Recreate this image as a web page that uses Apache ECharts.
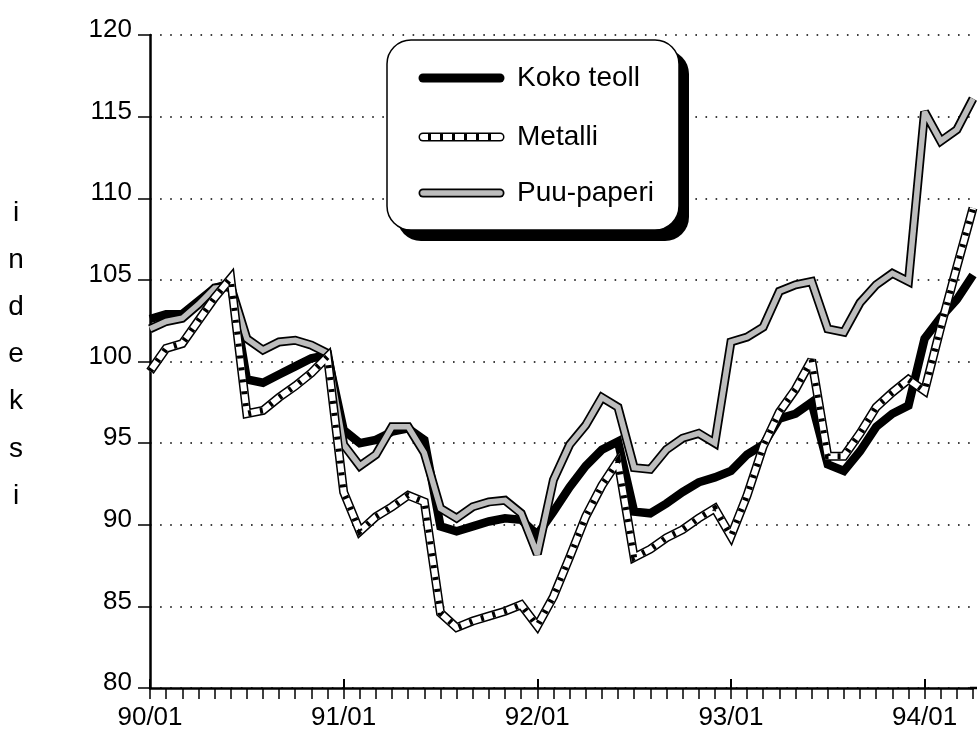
<!DOCTYPE html>
<html>
<head>
<meta charset="utf-8">
<script src="https://cdn.jsdelivr.net/npm/echarts@6/dist/echarts.min.js"></script>
<style>
  html, body { margin: 0; padding: 0; background: #fff; }
  #chart { width: 979px; height: 732px; }
</style>
</head>
<body>
<div id="chart"></div>
<script>
// ---- data (monthly, 90/01 .. 94/04) ----
const months = [
  '90/01','90/02','90/03','90/04','90/05','90/06','90/07','90/08','90/09','90/10','90/11','90/12',
  '91/01','91/02','91/03','91/04','91/05','91/06','91/07','91/08','91/09','91/10','91/11','91/12',
  '92/01','92/02','92/03','92/04','92/05','92/06','92/07','92/08','92/09','92/10','92/11','92/12',
  '93/01','93/02','93/03','93/04','93/05','93/06','93/07','93/08','93/09','93/10','93/11','93/12',
  '94/01','94/02','94/03','94/04'
];
const kokoTeoll = [
  102.6,102.9,102.9,103.7,104.5,104.8,98.9,98.7,99.2,99.7,100.2,100.4,
  95.8,95.0,95.2,95.7,95.9,95.2,89.9,89.6,89.9,90.2,90.4,90.3,
  89.4,90.8,92.3,93.6,94.6,95.1,90.8,90.7,91.3,92.0,92.6,92.9,
  93.3,94.3,94.9,96.5,96.8,97.5,93.7,93.3,94.5,96.0,96.8,97.3,
  101.4,102.7,103.8,105.3
];
const metalli = [
  99.4,100.8,101.1,102.5,103.9,105.1,96.8,97.0,97.8,98.5,99.3,100.3,
  92.0,89.6,90.5,91.1,91.8,91.4,84.6,83.7,84.1,84.4,84.7,85.1,
  83.8,85.6,88.0,90.5,92.4,93.9,88.0,88.5,89.2,89.7,90.4,91.0,
  89.3,91.8,94.8,96.9,98.3,100.1,94.2,94.2,95.6,97.2,98.1,98.9,
  98.2,102.1,105.8,109.4
];
const puuPaperi = [
  102.0,102.45,102.65,103.5,104.5,104.6,101.4,100.7,101.2,101.3,101.0,100.5,
  94.9,93.6,94.3,96.0,96.0,94.4,91.0,90.4,91.1,91.4,91.5,90.7,
  88.2,92.75,94.9,96.1,97.8,97.2,93.5,93.4,94.6,95.3,95.6,95.0,
  101.2,101.5,102.1,104.3,104.7,104.9,102.0,101.8,103.6,104.7,105.4,104.9,
  115.3,113.5,114.2,116.1
];
const seriesNames = ['Koko teoll', 'Metalli', 'Puu-paperi'];
const yAxisName = 'indeksi';
const yMin = 80, yMax = 120, yStep = 5;

// ---- chart ----
const FONT = '"Liberation Sans", Arial, Helvetica, sans-serif';
const chart = echarts.init(document.getElementById('chart'), null, { renderer: 'canvas' });

function lineSeries(name, data, color, width) {
  return {
    name: name,
    type: 'line',
    data: data,
    symbol: 'none',
    silent: true,
    animation: false,
    lineStyle: { color: color, width: width, join: 'miter', miterLimit: 3, cap: 'butt' }
  };
}

const GRAY = '#bdbdbd';
const series = [
  lineSeries(seriesNames[0], kokoTeoll, '#000', 8.5),
  lineSeries(seriesNames[2], puuPaperi, '#000', 9),
  lineSeries(seriesNames[2], puuPaperi, GRAY, 5.5),
  lineSeries(seriesNames[1], metalli, '#000', 9),
  lineSeries(seriesNames[1], metalli, '#fff', 6),
];
const hatch = lineSeries(seriesNames[1], metalli, '#000', 6);
hatch.lineStyle.type = [3, 9];
series.push(hatch);

// legend graphic
const lx1 = 423, lx2 = 500, tx = 517;
const ly = [78, 137, 193];
const legendEls = [
  { type: 'rect', shape: { x: 397, y: 50, width: 292, height: 191, r: 24 }, style: { fill: '#000' }, z: 100 },
  { type: 'rect', shape: { x: 387, y: 40, width: 292, height: 190, r: 24 }, style: { fill: '#fff', stroke: '#000', lineWidth: 1.5 }, z: 101 },
  { type: 'line', shape: { x1: lx1, y1: ly[0], x2: lx2, y2: ly[0] }, style: { stroke: '#000', lineWidth: 9, lineCap: 'round' }, z: 102 },
  { type: 'line', shape: { x1: lx1, y1: ly[1], x2: lx2, y2: ly[1] }, style: { stroke: '#000', lineWidth: 9, lineCap: 'round' }, z: 102 },
  { type: 'line', shape: { x1: lx1, y1: ly[1], x2: lx2, y2: ly[1] }, style: { stroke: '#fff', lineWidth: 6, lineCap: 'round' }, z: 103 },
  { type: 'line', shape: { x1: lx1 + 5, y1: ly[1], x2: lx2 - 2, y2: ly[1] }, style: { stroke: '#000', lineWidth: 6, lineDash: [3, 9] }, z: 104 },
  { type: 'line', shape: { x1: lx1, y1: ly[2], x2: lx2, y2: ly[2] }, style: { stroke: '#000', lineWidth: 9, lineCap: 'round' }, z: 102 },
  { type: 'line', shape: { x1: lx1, y1: ly[2], x2: lx2, y2: ly[2] }, style: { stroke: GRAY, lineWidth: 5.5, lineCap: 'round' }, z: 103 },
];
seriesNames.forEach(function (n, i) {
  legendEls.push({ type: 'text', x: tx, y: ly[i], z: 105,
    style: { text: n, fill: '#000', fontSize: 28, fontFamily: FONT, verticalAlign: 'middle' } });
});
legendEls.push({ type: 'text', x: 16, y: 354.5, z: 105,
  style: { text: yAxisName.split('').join('\n'), fill: '#000', fontSize: 28, fontFamily: FONT,
           lineHeight: 47.2, align: 'center', verticalAlign: 'middle' } });
// extend x-axis line slightly beyond last month, like the reference
legendEls.push({ type: 'line', shape: { x1: 970, y1: 688, x2: 977, y2: 688 }, style: { stroke: '#000', lineWidth: 2.5 }, z: 50 });

const option = {
  animation: false,
  backgroundColor: '#fff',
  grid: { left: 150, right: 6, top: 35, bottom: 44, containLabel: false },
  xAxis: [
    {
      type: 'category', data: months, boundaryGap: false,
      axisLine: { show: true, lineStyle: { color: '#000', width: 2.5 } },
      axisTick: { show: true, interval: 0, length: 11, lineStyle: { color: '#000', width: 1.5 } },
      axisLabel: { show: true, interval: function (i) { return i % 12 === 0; }, color: '#000',
                   fontSize: 26, fontFamily: FONT, margin: 17 },
      splitLine: { show: false }
    },
    {
      type: 'category', data: months, boundaryGap: false, position: 'bottom', gridIndex: 0,
      axisLine: { show: false },
      axisTick: { show: true, inside: true, interval: function (i) { return i % 12 === 0; }, length: 9,
                  lineStyle: { color: '#000', width: 2 } },
      axisLabel: { show: false },
      splitLine: { show: false }
    }
  ],
  yAxis: {
    type: 'value', min: yMin, max: yMax, interval: yStep,
    axisLine: { show: true, lineStyle: { color: '#000', width: 2.5 } },
    axisTick: { show: true, length: 12, lineStyle: { color: '#000', width: 1.5 } },
    axisLabel: { margin: 18, formatter: function (v) { return '{a|' + v + '}'; },
                 rich: { a: { color: '#000', fontSize: 26, fontFamily: FONT, padding: [0, 0, 10, 0] } } },
    splitLine: { show: true, lineStyle: { color: '#000', width: 1.6, type: [1.6, 8.5] } }
  },
  graphic: legendEls,
  series: series
};
chart.setOption(option);
</script>
</body>
</html>
